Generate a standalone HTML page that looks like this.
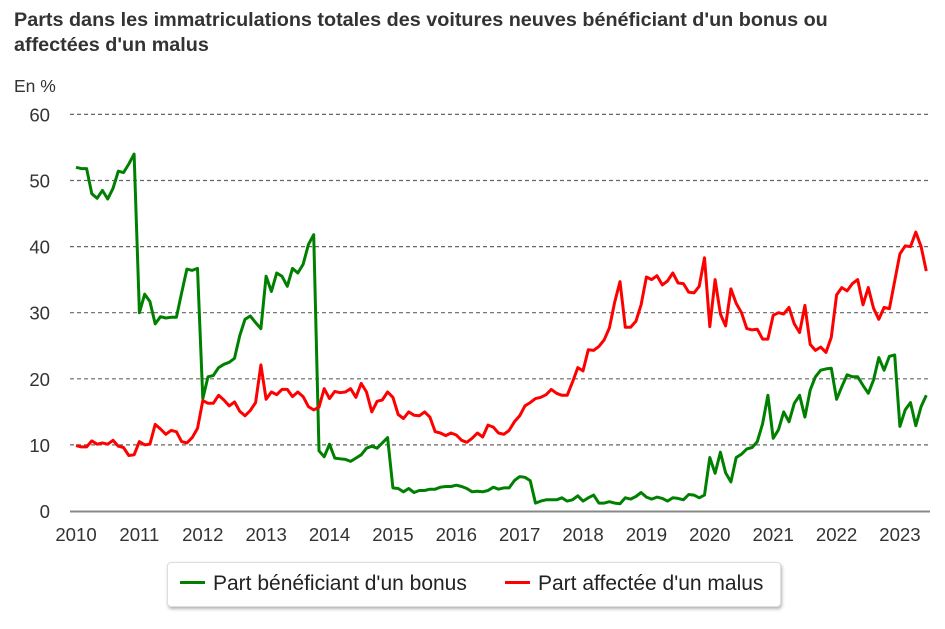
<!DOCTYPE html>
<html><head><meta charset="utf-8"><style>
body{margin:0;background:#fff;width:945px;height:629px;overflow:hidden;font-family:"Liberation Sans",sans-serif;}
#title{position:absolute;left:14px;top:8px;font-size:19.8px;font-weight:bold;color:#333;line-height:25px;}
#legend{position:absolute;left:167px;top:562px;width:612px;height:43px;border:1px solid #ddd;border-radius:4px;box-shadow:1px 2px 3px rgba(0,0,0,.3);background:#fff;}
.le{position:absolute;top:9px;font-size:21px;color:#222;}
.sw{display:inline-block;width:25px;height:3px;vertical-align:middle;margin-right:8px;position:relative;top:-2px;}
</style></head><body>
<div id="title">Parts dans les immatriculations totales des voitures neuves bénéficiant d'un bonus ou<br>affectées d'un malus</div>
<svg id="chart" width="945" height="629" style="position:absolute;left:0;top:0"></svg>
<div id="legend">
<div class="le" style="left:12px"><span class="sw" style="background:#008000"></span>Part bénéficiant d'un bonus</div>
<div class="le" style="left:337px"><span class="sw" style="background:#ff0000"></span>Part affectée d'un malus</div>
</div>
<script>
const yTicks=[0,10,20,30,40,50,60];
const xYears=[2010,2011,2012,2013,2014,2015,2016,2017,2018,2019,2020,2021,2022,2023];
const bonus=[
52,51.8,51.8,48,47.3,48.5,47.2,48.8,51.4,51.2,52.5,54,
30,32.8,31.7,28.3,29.4,29.2,29.3,29.3,33,36.6,36.4,36.7,
17,20.3,20.5,21.7,22.2,22.5,23.1,26.5,29,29.5,28.5,27.6,
35.5,33.2,36,35.5,34,36.7,36,37.3,40.3,41.8,9.1,8.2,
10.1,8,7.9,7.8,7.5,8,8.5,9.5,9.8,9.5,10.3,11.1,
3.5,3.4,2.9,3.4,2.8,3.1,3.1,3.3,3.3,3.6,3.7,3.7,
3.9,3.7,3.4,2.9,3,2.9,3.1,3.6,3.3,3.5,3.5,4.6,
5.2,5.1,4.6,1.2,1.5,1.7,1.7,1.7,2,1.5,1.7,2.3,
1.5,2,2.4,1.2,1.2,1.4,1.2,1.1,2,1.8,2.2,2.8,
2.1,1.8,2.1,1.9,1.5,2,1.9,1.7,2.5,2.4,2,2.4,
8.1,5.7,8.9,5.8,4.4,8.1,8.6,9.4,9.6,10.5,13.2,17.5,
11,12.3,15,13.5,16.3,17.5,14.2,18.3,20.3,21.3,21.5,21.6,
16.9,18.8,20.6,20.3,20.3,19,17.8,19.8,23.2,21.3,23.4,23.6,
12.8,15.3,16.4,12.9,15.8,17.5];
const malus=[
9.9,9.7,9.7,10.6,10.1,10.3,10.1,10.7,9.8,9.6,8.4,8.5,
10.5,10,10.1,13.1,12.4,11.6,12.2,12,10.5,10.3,11.1,12.5,
16.7,16.3,16.3,17.5,16.8,15.9,16.5,15.1,14.4,15.2,16.4,22.1,
16.9,18,17.6,18.4,18.4,17.3,18,17.3,15.8,15.3,15.7,18.5,
17,18.1,17.9,18,18.5,17.2,19.3,18,15,16.6,16.8,18,
17.2,14.6,14,15,14.5,14.4,15,14.2,12,11.8,11.4,11.8,
11.5,10.7,10.4,11,11.8,11.2,13,12.7,11.8,11.6,12.2,13.5,
14.4,15.9,16.4,17,17.2,17.6,18.4,17.8,17.5,17.5,19.5,21.7,
21.2,24.4,24.3,24.9,25.9,27.7,31.6,34.7,27.8,27.8,28.7,31.2,
35.4,35,35.6,34.2,34.8,36,34.5,34.4,33.1,33,34,38.3,
27.9,35,29.8,28,33.6,31.4,30,27.6,27.4,27.5,26,26,
29.6,30,29.8,30.8,28.3,27,31.1,25.2,24.3,24.8,24,26.3,
32.7,33.8,33.3,34.4,35,31.2,33.8,30.7,29,30.8,30.6,34.8,
38.9,40.1,40,42.2,40,36.3];
const NS='http://www.w3.org/2000/svg';
const svg=document.getElementById('chart');
const X0=76,YR=63.38,Y0=511,PX10=66.1;
function xm(i){return X0+i*YR/12;}
function xy(y){return X0+(y-2010)*YR;}
function yv(v){return Y0-v*PX10/10;}
function mk(t,a){const e=document.createElementNS(NS,t);for(const k in a)e.setAttribute(k,a[k]);svg.appendChild(e);return e;}
const yl=mk('text',{x:14,y:92,'font-size':17.5,fill:'#333'});yl.textContent='En %';


yTicks.forEach(t=>{
 if(t>0){const g=mk('line',{x1:70,x2:930,y1:yv(t),y2:yv(t),stroke:'#666','stroke-width':1.2,'stroke-dasharray':'4,3'});
 
 }
 const l=mk('text',{x:50,y:yv(t)+7,'font-size':18.6,fill:'#333','text-anchor':'end'});l.textContent=t;
 
 
});
const ax=mk('line',{x1:70,x2:930,y1:Y0+0.5,y2:Y0+0.5,stroke:'#888','stroke-width':2});


xYears.forEach(y=>{
 const l=mk('text',{x:xy(y),y:541,'font-size':18.6,fill:'#333','text-anchor':'middle'});l.textContent=y;
 
 
});
function line(d,c,n){
 const p=mk('polyline',{points:d.map((v,i)=>xm(i).toFixed(1)+','+yv(v).toFixed(1)).join(' '),fill:'none',stroke:c,'stroke-width':3,'stroke-linejoin':'round'});
 
 
}
line(bonus,'#008000','bonus-line');
line(malus,'#ff0000','malus-line');
</script>
</body></html>
